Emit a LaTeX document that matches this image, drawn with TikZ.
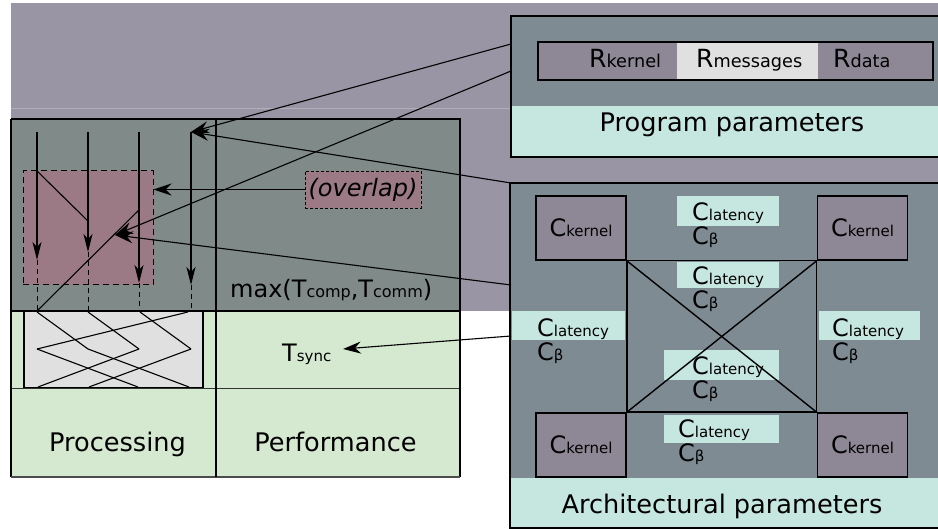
\documentclass[tikz,border=0pt]{standalone}
\usepackage{fontspec}
\setmainfont{DejaVu Sans}
\usetikzlibrary{arrows.meta}

\definecolor{bandc}{RGB}{154,149,164}
\definecolor{slate}{RGB}{127,138,137}
\definecolor{steel}{RGB}{126,139,147}
\definecolor{mint}{RGB}{198,230,224}
\definecolor{sage}{RGB}{213,232,208}
\definecolor{mauve}{RGB}{142,136,150}
\definecolor{rose}{RGB}{155,122,134}
\definecolor{paper}{RGB}{223,224,223}

% smaller, same-baseline index text
\newcommand\lo[1]{{\fontsize{16}{16}\selectfont #1}}
\newcommand\sm[1]{{\fontsize{15}{15}\selectfont #1}}
\newcommand\rl[1]{{\fontsize{17.7}{18}\selectfont #1}}

\tikzset{
  frame/.style={line width=1.6pt, black},
  txt/.style={inner sep=0pt, anchor=base west, font=\fontsize{24}{24}\selectfont},
  rtxt/.style={inner sep=0pt, anchor=base west, font=\fontsize{25}{25}\selectfont},
  ctxt/.style={inner sep=0pt, anchor=base, font=\fontsize{25.6}{26}\selectfont},
  arr/.style={line width=1.1pt, -{Stealth[length=18pt,width=12pt,inset=6pt]}},
  varr/.style={line width=1.3pt, -{Stealth[length=18pt,width=9pt,inset=5pt]}},
  kbox/.style={draw, line width=1.6pt, fill=mauve, minimum width=90pt, minimum height=64pt,
               inner sep=0pt, font=\fontsize{24}{24}\selectfont},
  zig/.style={line width=1.1pt},
}

\begin{document}
\begin{tikzpicture}[x=1pt,y=-1pt]
\useasboundingbox (0,0) rectangle (938,529);
\fill[white] (0,0) rectangle (938,529);

% background band
\fill[bandc] (11,3) rectangle (938,311);
\draw[white, opacity=.25, line width=.6pt] (11,108) -- (511,108);

% ---------------- left panel ----------------
\fill[slate] (11,119) rectangle (460,311);
\fill[sage] (11,311) rectangle (460,477);
\draw[line width=.8pt, black!80] (11,388) -- (460,388);

% overlap region
\node[draw, dashed, dash pattern=on 6pt off 4pt, line width=1pt, fill=rose,
      minimum width=130pt, minimum height=114pt, inner sep=0pt] (pinkbox) at (88,228) {};

% processing box
\node[draw, line width=1.6pt, fill=paper, minimum width=179pt, minimum height=76pt,
      inner sep=0pt] (procbox) at (113.5,349.5) {};

\draw[frame] (11,119) -- (460,119) -- (460,477);
\draw[frame] (11,477) -- (11,119);
\draw[line width=1.2pt, black!70] (11,477) -- (460,477);
\draw[frame] (216,119) -- (216,477);
\draw[frame] (11,311) -- (460,311);

% process lanes
\foreach \n/\x/\e in {1/37/260, 2/88/252, 3/139/283, 4/191/285} {
  \coordinate (s\n) at (\x,132);
  \coordinate (e\n) at (\x,\e);
  \coordinate (f\n) at (\x,311);
}
\foreach \n in {1,2,3,4} {
  \draw[varr] (s\n) -- (e\n);
  \draw[line width=1pt, dashed, dash pattern=on 5pt off 4pt] (e\n) -- (f\n);
}
\coordinate (d1a) at (37,171);
\coordinate (d1b) at (88,221);
\coordinate (d2a) at (139,210);
\draw[zig] (d1a) -- (d1b);
\draw[zig] (d2a) -- (f1);

% message exchange in the processing box
\coordinate (t1) at (37,312);  \coordinate (t2) at (88,312);
\coordinate (t3) at (140,312); \coordinate (t4) at (188,312);
\coordinate (m1) at (37,349);  \coordinate (m2) at (88,349);
\coordinate (m3) at (139,349); \coordinate (m4) at (191,349);
\coordinate (b1) at (38,387);  \coordinate (b2) at (89,387);
\coordinate (b3) at (138,387); \coordinate (b4) at (189,387);
\draw[zig] (t1) -- (m2);
\draw[zig] (t2) -- (m3);
\draw[zig] (t3) -- (m4);
\draw[zig] (t4) -- (m1);
\draw[zig] (m1) -- (b3);
\draw[zig] (m2) -- (b4);
\draw[zig] (m3) -- (b1);
\draw[zig] (m4) -- (b2);

% performance labels
\node[draw, densely dashed, line width=.6pt, fill=rose, minimum width=116pt,
      minimum height=37pt, inner sep=0pt,
      font=\fontsize{24}{24}\selectfont\itshape] (ovl) at (363,189.5) {(overlap)};
\node[txt] (mx) at (230,298) {max(T\lo{comp},T\lo{comm})};
\node[txt] (ts) at (282,362) {T\sm{sync}};
\coordinate (tsin) at (343,349);
\node[ctxt] (proc) at (117.5,452) {Processing};
\node[ctxt] (perf) at (335.5,452) {Performance};

% ---------------- program parameters ----------------
\fill[steel] (511,16) rectangle (938,106);
\fill[mint] (511,106) rectangle (938,157);
\draw[frame] (940,16) -- (511,16) -- (511,157) -- (940,157);
\fill[mauve] (538,42) rectangle (677,80);
\fill[paper] (677,42) rectangle (818,80);
\fill[mauve] (818,42) rectangle (933,80);
\draw[line width=1.2pt] (538,42) rectangle (933,80);
\node[rtxt] (rk) at (589,68) {R\rl{kernel}};
\node[rtxt] (rm) at (696,68) {R\rl{messages}};
\node[rtxt] (rd) at (833,68) {R\rl{data}};
\node[ctxt] (pp) at (732,132) {Program parameters};
\coordinate (progA) at (511,44);
\coordinate (progB) at (511,71);

% ---------------- architectural parameters ----------------
\fill[steel] (510,183) rectangle (938,478);
\fill[mint] (510,478) rectangle (938,528);
\draw[frame] (940,183) -- (510,183) -- (510,528) -- (940,528);

% link parameters
\foreach \x/\y/\w/\h in {677/196/102/30, 677/262/102/26, 512/311/113/29,
                          819/311/101/29, 664/350/115/30, 664/415/115/28}
  \fill[mint] (\x,\y) rectangle ++(\w,\h);
\foreach \n/\x/\y in {la/692/221, lb/692/285, lc/537/337, ld/832/337, le/692/375, lf/678/438} {
  \node[txt] (\n1) at (\x,\y) {C\sm{latency}};
  \node[txt] (\n2) at (\x,\y+24) {C\sm{β}};
}

% nodes of the machine
\node[kbox] (k1) at (581,228) {C\sm{kernel}};
\node[kbox] (k2) at (862.5,228) {C\sm{kernel}};
\node[kbox] (k3) at (581,445) {C\sm{kernel}};
\node[kbox] (k4) at (862.5,445) {C\sm{kernel}};
\draw[line width=1.4pt] (k1.south east) -- (k2.south west);
\draw[line width=1.4pt] (k3.north east) -- (k4.north west);
\draw[line width=1.4pt] (k1.south east) -- (k3.north east);
\draw[line width=1.4pt] (k2.south west) -- (k4.north west);
\draw[line width=1.4pt] (k1.south east) -- (k4.north west);
\draw[line width=1.4pt] (k2.south west) -- (k3.north east);

\node[ctxt] (ap) at (722,514) {Architectural parameters};
\coordinate (archA) at (511,183);
\coordinate (archB) at (511,285);
\coordinate (archC) at (511,336);

% ---------------- dependencies ----------------
\coordinate (hit) at (115,235);
\draw[arr] (progA) -- (s4);
\draw[arr] (archA) -- (s4);
\draw[arr] (progB) -- (hit);
\draw[arr] (archB) -- (hit);
\draw[arr] (ovl.west) -- (ovl.west -| pinkbox.east);
\draw[arr] (archC) -- (tsin);
\end{tikzpicture}
\end{document}
